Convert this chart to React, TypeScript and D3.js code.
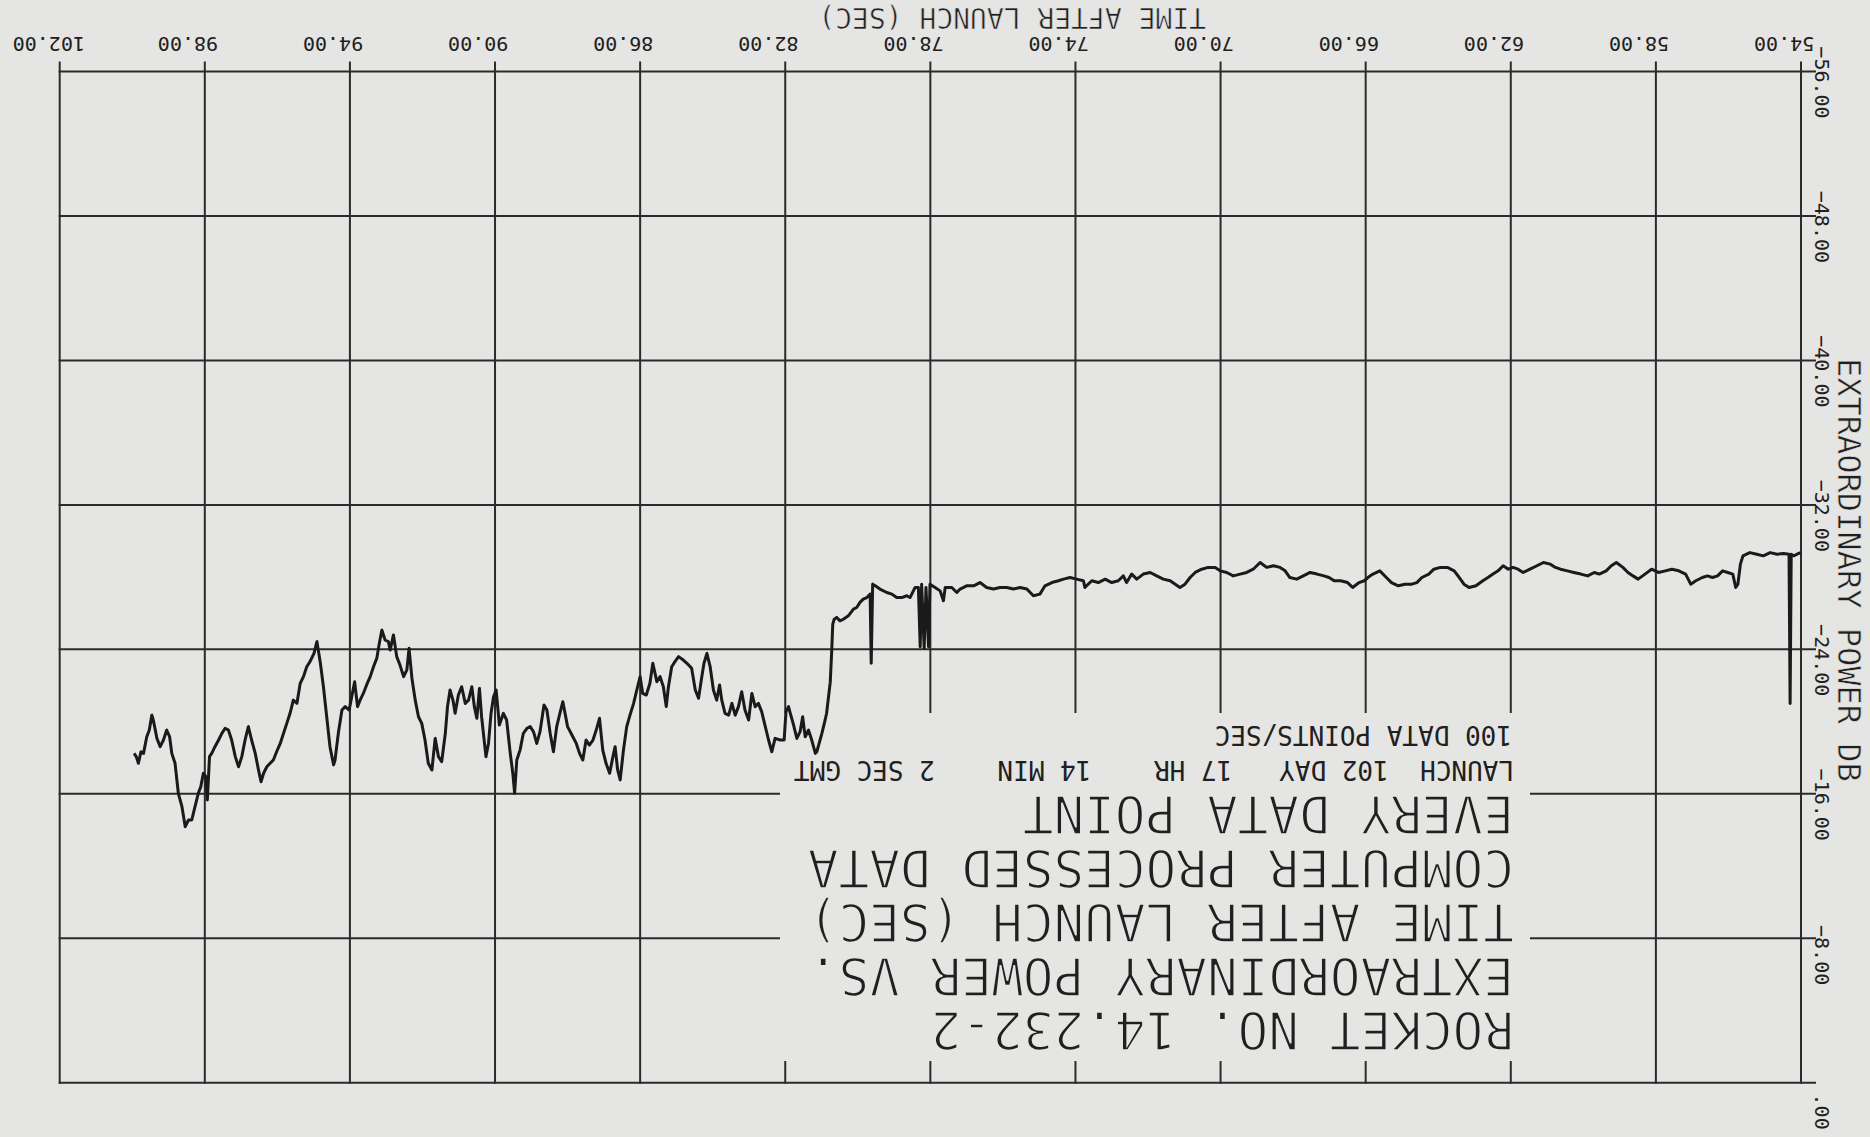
import React from "react";
import * as d3 from "d3";

// the plot sheet is photographed upside down, so everything is drawn rotated 180deg

const timeTicks = [54, 58, 62, 66, 70, 74, 78, 82, 86, 90, 94, 98, 102];
const powerTicks = [-56, -48, -40, -32, -24, -16, -8, 0];

const titleLines = [
  "ROCKET NO. 14.232-2",
  "EXTRAORDINARY POWER VS.",
  "TIME AFTER LAUNCH (SEC)",
  "COMPUTER PROCESSED DATA",
  "EVERY DATA POINT",
];
const launchLine = "LAUNCH  102 DAY   17 HR    14 MIN    2 SEC GMT";
const rateLine = "100 DATA POINTS/SEC";
const xTitle = "TIME AFTER LAUNCH (SEC)";
const yTitle = "EXTRAORDINARY POWER DB";

// [time after launch (s), extraordinary power (dB)]
const seg54to67: [number, number][] = [
  [54.01, -29.36], [54.11, -29.27], [54.2, -29.18], [54.27, -29.27], [54.3, -21.0],
  [54.33, -29.27], [54.48, -29.31], [54.66, -29.27], [54.85, -29.36], [55.04, -29.18],
  [55.22, -29.27], [55.41, -29.36], [55.6, -29.18], [55.67, -28.72], [55.74, -27.61],
  [55.8, -27.43], [55.88, -28.17], [56.02, -28.26], [56.16, -28.35], [56.3, -28.07],
  [56.44, -27.98], [56.58, -28.07], [56.72, -27.98], [56.9, -27.8], [57.04, -27.61],
  [57.18, -28.17], [57.37, -28.35], [57.56, -28.44], [57.74, -28.35], [57.93, -28.26],
  [58.12, -28.44], [58.3, -28.17], [58.49, -27.89], [58.63, -28.07], [58.77, -28.26],
  [58.91, -28.54], [59.09, -28.81], [59.23, -28.63], [59.37, -28.35], [59.56, -28.17],
  [59.7, -28.26], [59.88, -28.07], [60.07, -28.17], [60.26, -28.26], [60.44, -28.35],
  [60.63, -28.44], [60.77, -28.54], [60.91, -28.72], [61.1, -28.81], [61.28, -28.63],
  [61.47, -28.44], [61.66, -28.26], [61.8, -28.44], [61.94, -28.54], [62.07, -28.44],
  [62.21, -28.63], [62.35, -28.35], [62.49, -28.17], [62.63, -27.98], [62.77, -27.8],
  [62.96, -27.52], [63.15, -27.43], [63.29, -27.61], [63.42, -27.98], [63.56, -28.35],
  [63.75, -28.54], [63.94, -28.54], [64.12, -28.44], [64.26, -28.17], [64.45, -27.98],
  [64.59, -27.7], [64.73, -27.61], [64.92, -27.61], [65.1, -27.52], [65.29, -27.7],
  [65.43, -27.98], [65.61, -28.35], [65.8, -28.17], [65.94, -27.98], [66.04, -27.8],
  [66.18, -27.7], [66.36, -27.43], [66.5, -27.7], [66.69, -27.8], [66.87, -27.8],
  [67.01, -27.98], [67.15, -28.07], [67.34, -28.17],
];

const seg67to81: [number, number][] = [
  [67.53, -28.26], [67.72, -28.07], [67.9, -27.89], [68.09, -27.98], [68.22, -28.35],
  [68.36, -28.54], [68.54, -28.63], [68.73, -28.54], [68.91, -28.81], [69.1, -28.44],
  [69.28, -28.26], [69.46, -28.17], [69.65, -28.07], [69.83, -28.26], [70.01, -28.35],
  [70.15, -28.54], [70.34, -28.54], [70.52, -28.44], [70.7, -28.26], [70.84, -27.98],
  [70.98, -27.61], [71.12, -27.43], [71.25, -27.61], [71.39, -27.8], [71.58, -27.89],
  [71.76, -28.07], [71.94, -28.26], [72.13, -28.17], [72.31, -27.89], [72.45, -28.17],
  [72.59, -27.7], [72.68, -28.07], [72.82, -27.8], [73.0, -27.7], [73.18, -27.89],
  [73.37, -27.7], [73.55, -27.8], [73.74, -27.43], [73.78, -27.8], [73.97, -27.89],
  [74.15, -27.98], [74.33, -27.89], [74.47, -27.8], [74.65, -27.7], [74.84, -27.52],
  [74.98, -27.06], [75.16, -26.97], [75.34, -27.34], [75.53, -27.43], [75.71, -27.34],
  [75.89, -27.43], [76.08, -27.43], [76.26, -27.34], [76.45, -27.43], [76.63, -27.7],
  [76.81, -27.52], [77.0, -27.52], [77.18, -27.34], [77.27, -27.15], [77.41, -27.43],
  [77.59, -27.43], [77.64, -26.69], [77.73, -27.24], [77.87, -27.43], [78.01, -27.61],
  [78.05, -24.15], [78.12, -27.43], [78.17, -24.06], [78.24, -27.61], [78.28, -24.15],
  [78.33, -27.43], [78.42, -27.43], [78.56, -26.87], [78.65, -26.97], [78.79, -26.87],
  [78.93, -26.87], [79.06, -27.06], [79.2, -27.15], [79.39, -27.34], [79.52, -27.52],
  [79.59, -27.61], [79.63, -23.23], [79.66, -27.06], [79.75, -26.87], [79.85, -26.78],
  [79.94, -26.6], [80.03, -26.32], [80.12, -26.23], [80.26, -25.86], [80.4, -25.67],
  [80.49, -25.58], [80.58, -25.77], [80.65, -25.67], [80.69, -25.4], [80.72, -23.87],
  [80.76, -22.17], [80.86, -20.46], [80.9, -20.09],
];

const seg81to90: [number, number][] = [
  [80.99, -19.35], [81.13, -18.33], [81.17, -18.24], [81.27, -18.98], [81.36, -19.53],
  [81.45, -19.16], [81.52, -20.27], [81.59, -19.44], [81.68, -19.07], [81.77, -19.81],
  [81.86, -20.46], [81.91, -20.83], [81.98, -20.55], [82.03, -18.98], [82.14, -18.98],
  [82.28, -19.07], [82.37, -18.33], [82.46, -18.98], [82.55, -19.72], [82.65, -20.55],
  [82.74, -21.01], [82.83, -20.83], [82.92, -21.56], [83.01, -20.09], [83.11, -20.64],
  [83.2, -21.65], [83.29, -20.83], [83.38, -20.36], [83.47, -21.01], [83.56, -20.36],
  [83.66, -20.46], [83.75, -21.19], [83.81, -22.03], [83.89, -21.19], [83.98, -21.75],
  [84.07, -23.04], [84.16, -23.78], [84.24, -23.23], [84.3, -22.49], [84.39, -21.29],
  [84.48, -21.75], [84.58, -22.95], [84.71, -23.23], [84.81, -23.41], [84.94, -23.6],
  [85.04, -23.32], [85.13, -23.04], [85.22, -21.93], [85.28, -20.83], [85.36, -21.93],
  [85.45, -22.49], [85.54, -22.21], [85.65, -23.23], [85.73, -22.12], [85.83, -21.47],
  [85.93, -21.56], [86.0, -22.49], [86.07, -21.93], [86.18, -21.01], [86.28, -20.36],
  [86.37, -19.72], [86.46, -18.42], [86.55, -16.77], [86.62, -17.32], [86.69, -18.61],
  [86.75, -18.06], [86.84, -17.14], [86.94, -17.69], [87.03, -18.42], [87.12, -20.18],
  [87.21, -19.53], [87.3, -18.98], [87.4, -18.7], [87.49, -18.98], [87.58, -17.87],
  [87.67, -18.24], [87.76, -18.79], [87.88, -19.26], [88.0, -19.72], [88.13, -21.1],
  [88.2, -20.55], [88.3, -19.72], [88.39, -18.33], [88.48, -19.35], [88.57, -20.64],
  [88.65, -20.92], [88.76, -19.44], [88.85, -18.79], [88.94, -19.44], [89.03, -19.72],
  [89.12, -19.63], [89.22, -19.35], [89.31, -18.42], [89.4, -17.87], [89.46, -16.03],
  [89.51, -17.14], [89.58, -18.24],
];

const seg90to100: [number, number][] = [
  [89.68, -20.09], [89.77, -20.46], [89.88, -19.81], [89.97, -21.75], [90.04, -21.38],
  [90.11, -20.46], [90.18, -18.79], [90.25, -18.06], [90.3, -18.98], [90.37, -20.27],
  [90.43, -21.84], [90.5, -20.18], [90.57, -20.83], [90.64, -21.93], [90.73, -21.19],
  [90.82, -21.01], [90.92, -21.93], [91.01, -21.47], [91.1, -20.46], [91.16, -21.19],
  [91.24, -21.75], [91.31, -20.83], [91.37, -19.35], [91.47, -17.78], [91.56, -18.06],
  [91.65, -19.07], [91.74, -17.32], [91.84, -17.69], [91.93, -18.98], [92.02, -19.9],
  [92.11, -20.27], [92.2, -21.19], [92.29, -22.39], [92.37, -24.06], [92.43, -22.86],
  [92.52, -22.49], [92.62, -23.13], [92.71, -23.6], [92.8, -24.8], [92.89, -23.97],
  [92.94, -24.43], [93.03, -24.52], [93.12, -25.07], [93.19, -24.33], [93.26, -23.5],
  [93.35, -23.04], [93.44, -22.49], [93.54, -22.03], [93.63, -21.56], [93.72, -21.19],
  [93.79, -20.83], [93.87, -22.21], [93.95, -21.38], [94.02, -20.64], [94.13, -20.83],
  [94.22, -20.64], [94.32, -19.35], [94.41, -17.87], [94.45, -17.6], [94.55, -18.61],
  [94.64, -20.27], [94.73, -21.93], [94.82, -23.32], [94.91, -24.43], [94.99, -23.78],
  [95.1, -23.32], [95.19, -23.04], [95.28, -22.49], [95.37, -22.12], [95.46, -21.01],
  [95.56, -21.19], [95.65, -20.46], [95.74, -19.9], [95.83, -19.35], [95.92, -18.79],
  [96.02, -18.33], [96.11, -17.87], [96.2, -17.69], [96.29, -17.5], [96.38, -17.14],
  [96.45, -16.67], [96.52, -17.32], [96.61, -18.24], [96.71, -18.98], [96.8, -19.72],
  [96.89, -18.98], [96.98, -18.06], [97.07, -17.5], [97.16, -18.06], [97.26, -18.98],
  [97.35, -19.53], [97.44, -19.63], [97.53, -19.35], [97.62, -18.98], [97.72, -18.61],
  [97.81, -18.24], [97.87, -18.06], [97.93, -15.66], [97.97, -16.95], [98.04, -17.14],
  [98.11, -16.4], [98.18, -16.03], [98.27, -15.29], [98.36, -14.55], [98.45, -14.55],
  [98.54, -14.18], [98.63, -15.29], [98.73, -16.03], [98.82, -17.69], [98.91, -18.24],
  [98.97, -19.16], [99.05, -19.53], [99.14, -18.98], [99.23, -18.61], [99.32, -19.07],
  [99.42, -20.09], [99.46, -20.36], [99.53, -19.53], [99.6, -19.16], [99.69, -18.24],
  [99.76, -18.33], [99.83, -17.69], [99.89, -18.06], [99.95, -18.24],
];

const W = 1870;
const H = 1137;
const paper = "#e5e5e3";
const ink = "#2b2b2b";
const textInk = "#202020";
const mono = "'DejaVu Sans Mono', monospace";

// empty panel that holds the title block (screen coords of the photographed sheet)
const box = { left: 779, right: 1531, top: 712, bottom: 1062 };

const fmt = (v: number) => d3.format(".2f")(v).replace(/^(-?)0\./, "$1.");

export default function App() {
  const x = d3.scaleLinear().domain([54, 102]).range([1801, 59.7]);
  const y = d3.scaleLinear().domain([-56, 0]).range([71.6, 1082.7]);

  const trace = [...seg54to67, ...seg67to81, ...seg81to90, ...seg90to100];
  const line = d3
    .line<[number, number]>()
    .x((d) => x(d[0]))
    .y((d) => y(d[1]));

  const tickTop = y(-56) - 9;
  const rightEnd = x(54) + 14;

  const vSegs: number[][] = [];
  timeTicks.forEach((t) => {
    const xp = x(t);
    if (xp > box.left && xp < box.right) {
      vSegs.push([xp, tickTop, xp, box.top]);
      vSegs.push([xp, box.bottom, xp, y(0)]);
    } else {
      vSegs.push([xp, tickTop, xp, y(0)]);
    }
  });

  const hSegs: number[][] = [];
  powerTicks.forEach((p) => {
    const yp = y(p);
    if (yp > box.top && yp < box.bottom) {
      hSegs.push([x(102), yp, box.left, yp]);
      hSegs.push([box.right, yp, rightEnd, yp]);
    } else {
      hSegs.push([x(102), yp, rightEnd, yp]);
    }
  });

  const flip = (px: number, py: number) => `rotate(180,${px},${py})`;

  return (
    <svg
      width={W}
      height={H}
      style={{ position: "absolute", left: 0, top: 0, display: "block" }}
    >
      <rect width={W} height={H} fill={paper} />

      <g stroke={ink} strokeWidth={2} strokeLinecap="square">
        {vSegs.map((s, i) => (
          <line key={"v" + i} x1={s[0]} y1={s[1]} x2={s[2]} y2={s[3]} />
        ))}
        {hSegs.map((s, i) => (
          <line key={"h" + i} x1={s[0]} y1={s[1]} x2={s[2]} y2={s[3]} />
        ))}
      </g>

      <path
        d={line(trace) || ""}
        fill="none"
        stroke="#1a1a1a"
        strokeWidth={3}
        strokeLinejoin="round"
      />

      {/* tick labels: x ones upside down above the top axis, y ones down the right side */}
      <g fontFamily={mono} fontSize={20} fill={textInk}>
        {timeTicks.map((t) => {
          const ax = x(t) - 47;
          const ay = 37;
          return (
            <text key={t} x={ax} y={ay} textAnchor="end" transform={flip(ax, ay)}>
              {fmt(t)}
            </text>
          );
        })}
        {powerTicks.map((p) => {
          const ax = 1815;
          const ay = y(p) + 47;
          return (
            <text
              key={p}
              x={ax}
              y={ay}
              textAnchor="end"
              transform={`rotate(90,${ax},${ay})`}
            >
              {fmt(p)}
            </text>
          );
        })}
      </g>

      <g fontFamily={mono} fill={textInk} stroke={paper} strokeWidth={0.6}>
        <text x={1206} y={8} fontSize={28} transform={flip(1206, 8)}>
          {xTitle}
        </text>
        <text x={1838} y={358} fontSize={32} transform={`rotate(90,1838,358)`}>
          {yTitle}
        </text>
      </g>

      <g fontFamily={mono} fontSize={51} fill={textInk} stroke={paper} strokeWidth={1.6}>
        {titleLines.map((s, i) => {
          const ay = 1012 - i * 54;
          return (
            <text key={s} x={1514} y={ay} transform={flip(1514, ay)}>
              {s}
            </text>
          );
        })}
      </g>

      <g fontFamily={mono} fontSize={26} fill={textInk}>
        <text
          x={1514}
          y={761}
          xmlSpace="preserve"
          style={{ whiteSpace: "pre" }}
          transform={flip(1514, 761)}
        >
          {launchLine}
        </text>
        <text x={1512} y={726} transform={flip(1512, 726)}>
          {rateLine}
        </text>
      </g>
    </svg>
  );
}
